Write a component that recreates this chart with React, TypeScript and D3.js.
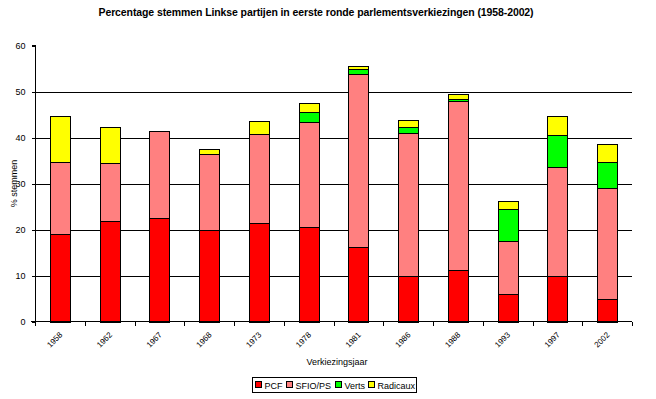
import * as React from 'react';
import {useEffect, useRef} from 'react';
import * as d3 from 'd3';

const years = ['1958', '1962', '1967', '1968', '1973', '1978', '1981', '1986', '1988', '1993', '1997', '2002'];
const pcf = [19.0, 21.8, 22.6, 20.0, 21.4, 20.6, 16.1, 9.8, 11.3, 6.0, 9.9, 4.9];
const sfio = [15.6, 12.6, 18.9, 16.5, 19.3, 22.8, 37.8, 31.1, 36.6, 11.5, 23.7, 24.1];
const verts = [0, 0, 0, 0, 0, 2.2, 1.1, 1.3, 0.4, 7.0, 6.9, 5.7];
const radicaux = [10.0, 7.9, 0, 0.9, 2.9, 2.0, 0.6, 1.7, 1.1, 1.8, 4.2, 3.9];

const seriesNames = ['PCF', 'SFIO/PS', 'Verts', 'Radicaux'];
const seriesColors = ['#ff0000', '#ff8080', '#00ff00', '#ffff00'];
const yTicks = [0, 10, 20, 30, 40, 50, 60];

const width = 656;
const height = 399;
const font = 'Arial, "Liberation Sans", sans-serif';

export default function App() {
  const ref = useRef<SVGSVGElement>(null);

  useEffect(() => {
    const svg = d3.select(ref.current);
    svg.selectAll('*').remove();

    const left = 35, right = 632, top = 45.5, bottom = 321.5;

    const x = d3.scaleBand().domain(years).range([left, right]).padding(0);
    const y = d3.scaleLinear().domain([0, 60]).range([bottom, top]);

    const table = years.map((yr, i) => ({year: yr, PCF: pcf[i], 'SFIO/PS': sfio[i], Verts: verts[i], Radicaux: radicaux[i]}));
    const stacked = d3.stack<any>().keys(seriesNames)(table);

    // title
    svg.append('text')
      .attr('x', 316).attr('y', 16)
      .attr('text-anchor', 'middle')
      .style('font', `bold 10.5px ${font}`)
      .style('letter-spacing', '-0.1px')
      .text('Percentage stemmen Linkse partijen in eerste ronde parlementsverkiezingen (1958-2002)');

    // gridlines
    svg.append('g')
      .selectAll('line')
      .data(yTicks.filter(t => t > 0 && t < 60))
      .join('line')
      .attr('x1', left).attr('x2', right)
      .attr('y1', d => Math.round(y(d)) + 0.5).attr('y2', d => Math.round(y(d)) + 0.5)
      .attr('stroke', '#000');

    // bars
    const bw = x.bandwidth() * 0.4;
    svg.append('g')
      .selectAll('g')
      .data(stacked)
      .join('g')
      .attr('fill', (d, i) => seriesColors[i])
      .selectAll('rect')
      .data(d => d.filter(s => s[1] - s[0] > 0))
      .join('rect')
      .attr('x', d => Math.round(x(d.data.year)! + x.bandwidth() / 2 - bw / 2) + 0.5)
      .attr('width', Math.round(bw))
      .attr('y', d => Math.round(y(d[1])) + 0.5)
      .attr('height', d => Math.round(y(d[0])) - Math.round(y(d[1])))
      .attr('stroke', '#000')
      .attr('stroke-width', 1);

    // y axis
    const yAxis = svg.append('g')
      .attr('transform', `translate(${left + 0.5},0)`)
      .call(d3.axisLeft(y).tickValues(yTicks).tickSize(4).tickPadding(6).tickFormat(d3.format('d')));
    yAxis.select('.domain').attr('d', `M-4,${y(60)}H0V${y(0)}`);
    yAxis.selectAll('text').style('font', `9px ${font}`).attr('fill', '#000');

    // x axis
    const xAxis = svg.append('g').attr('transform', `translate(0,${bottom})`);
    xAxis.append('line').attr('x1', left - 4).attr('x2', right).attr('stroke', '#000');
    xAxis.selectAll('line.tick')
      .data(d3.range(years.length + 1))
      .join('line')
      .attr('class', 'tick')
      .attr('x1', i => Math.round(left + i * x.step()) + 0.5)
      .attr('x2', i => Math.round(left + i * x.step()) + 0.5)
      .attr('y1', 0).attr('y2', 4)
      .attr('stroke', '#000');
    xAxis.selectAll('text')
      .data(years)
      .join('text')
      .attr('transform', d => `translate(${x(d)! + x.bandwidth() / 2 - 1},10) rotate(-45)`)
      .attr('text-anchor', 'end')
      .attr('dy', '0.7em')
      .style('font', `8px ${font}`)
      .text(d => d);

    // axis titles
    svg.append('text')
      .attr('x', 337).attr('y', 365)
      .attr('text-anchor', 'middle')
      .style('font', `9px ${font}`)
      .text('Verkiezingsjaar');
    svg.append('text')
      .attr('transform', `translate(17,${(top + bottom) / 2}) rotate(-90)`)
      .attr('text-anchor', 'middle')
      .style('font', `9px ${font}`)
      .text('% stemmen');

    // legend
    const lg = svg.append('g').attr('transform', 'translate(252.5,377.5)');
    lg.append('rect').attr('width', 164).attr('height', 15).attr('fill', '#fff').attr('stroke', '#000');
    const offsets = [3, 34, 83, 116];
    seriesNames.forEach((name, i) => {
      const g = lg.append('g').attr('transform', `translate(${offsets[i]},4)`);
      g.append('rect').attr('width', 6).attr('height', 6).attr('fill', seriesColors[i]).attr('stroke', '#000');
      g.append('text').attr('x', 9).attr('y', 7).style('font', `9px ${font}`).text(name);
    });
  }, []);

  return (
    <svg ref={ref} width={width} height={height} shapeRendering="crispEdges"
      style={{position: 'absolute', left: 0, top: 0, background: '#fff'}} />
  );
}
